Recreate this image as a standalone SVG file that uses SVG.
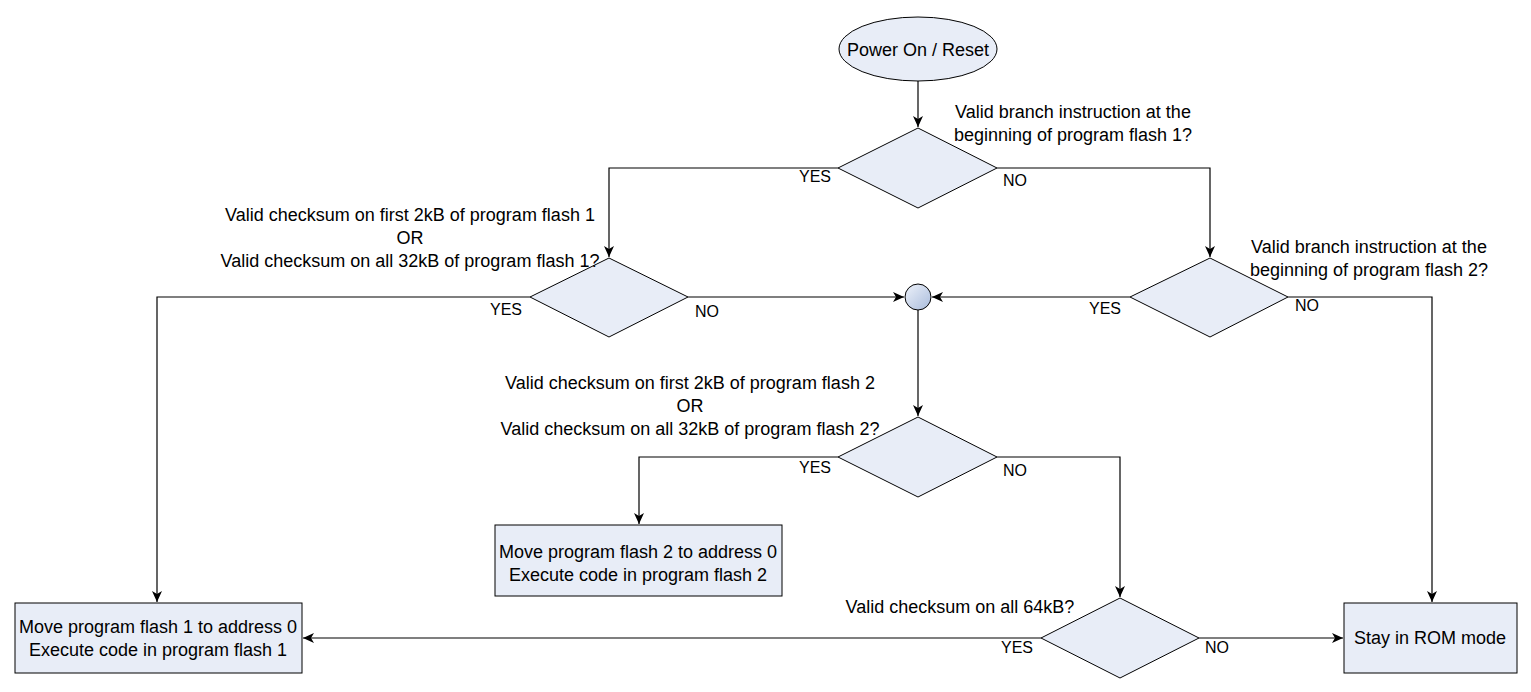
<svg xmlns="http://www.w3.org/2000/svg" width="1531" height="692" viewBox="0 0 1531 692">
<defs>
<marker id="arr" markerWidth="12" markerHeight="10" refX="11" refY="5" orient="auto" markerUnits="userSpaceOnUse">
<path d="M0,0 L11,5 L0,10 L3,5 Z" fill="#000"/>
</marker>
<linearGradient id="cg" x1="0" y1="0" x2="1" y2="1">
<stop offset="0" stop-color="#eef2fa"/>
<stop offset="1" stop-color="#a9bcdc"/>
</linearGradient>
</defs>
<style>
.s{fill:#e8edf7;stroke:#000;stroke-width:1}
.t{font-family:"Liberation Sans",Arial,sans-serif;font-size:18px;fill:#000}
.l{font-family:"Liberation Sans",Arial,sans-serif;font-size:16px;fill:#000}
.c{fill:none;stroke:#000;stroke-width:1.2}
</style>
<rect width="1531" height="692" fill="#fff"/>
<g id="connectors">
<path class="c" d="M918,81 V127" marker-end="url(#arr)"/>
<path class="c" d="M838,168 H609 V257" marker-end="url(#arr)"/>
<path class="c" d="M997,168 H1210 V257" marker-end="url(#arr)"/>
<path class="c" d="M530,297 H157 V602" marker-end="url(#arr)"/>
<path class="c" d="M688,297 H904" marker-end="url(#arr)"/>
<path class="c" d="M1130,297 H932" marker-end="url(#arr)"/>
<path class="c" d="M1288,297 H1432 V602" marker-end="url(#arr)"/>
<path class="c" d="M918,310 V416" marker-end="url(#arr)"/>
<path class="c" d="M838,457 H639 V524" marker-end="url(#arr)"/>
<path class="c" d="M997,457 H1120 V597" marker-end="url(#arr)"/>
<path class="c" d="M1041,638 H303" marker-end="url(#arr)"/>
<path class="c" d="M1199,638 H1343" marker-end="url(#arr)"/>
<text class="l" x="799" y="182">YES</text>
<text class="l" x="1003" y="186">NO</text>
<text class="l" x="490" y="315">YES</text>
<text class="l" x="695" y="317">NO</text>
<text class="l" x="1089" y="314">YES</text>
<text class="l" x="1295" y="311">NO</text>
<text class="l" x="799" y="473">YES</text>
<text class="l" x="1003" y="476">NO</text>
<text class="l" x="1001" y="653">YES</text>
<text class="l" x="1205" y="653">NO</text>
</g>
<g id="start">
<ellipse class="s" cx="918" cy="49" rx="79" ry="32"/>
<text class="t" x="918" y="56" text-anchor="middle">Power On / Reset</text>
</g>
<g id="d1">
<polygon class="s" points="918,128 997,168 918,208 838,168"/>
<text class="t" text-anchor="middle"><tspan x="1073" y="118">Valid branch instruction at the</tspan><tspan x="1073" y="141">beginning of program flash 1?</tspan></text>
</g>
<g id="d2">
<polygon class="s" points="609,258 688,297 609,337 530,297"/>
<text class="t" text-anchor="middle"><tspan x="410" y="221">Valid checksum on first 2kB of program flash 1</tspan><tspan x="410" y="244">OR</tspan><tspan x="410" y="267">Valid checksum on all 32kB of program flash 1?</tspan></text>
</g>
<g id="d3">
<polygon class="s" points="1210,258 1288,297 1210,337 1130,297"/>
<text class="t" text-anchor="middle"><tspan x="1369" y="253">Valid branch instruction at the</tspan><tspan x="1369" y="276">beginning of program flash 2?</tspan></text>
</g>
<g id="junction">
<circle cx="918" cy="297" r="13" fill="url(#cg)" stroke="#000" stroke-width="1"/>
</g>
<g id="d4">
<polygon class="s" points="918,417 997,457 918,497 838,457"/>
<text class="t" text-anchor="middle"><tspan x="690" y="389">Valid checksum on first 2kB of program flash 2</tspan><tspan x="690" y="412">OR</tspan><tspan x="690" y="435">Valid checksum on all 32kB of program flash 2?</tspan></text>
</g>
<g id="box2">
<rect class="s" x="495" y="525" width="287" height="71"/>
<text class="t" text-anchor="middle"><tspan x="638" y="558">Move program flash 2 to address 0</tspan><tspan x="638" y="581">Execute code in program flash 2</tspan></text>
</g>
<g id="d5">
<polygon class="s" points="1120,598 1199,638 1120,678 1041,638"/>
<text class="t" x="960" y="613" text-anchor="middle">Valid checksum on all 64kB?</text>
</g>
<g id="box1">
<rect class="s" x="15" y="603" width="287" height="70"/>
<text class="t" text-anchor="middle"><tspan x="158" y="633">Move program flash 1 to address 0</tspan><tspan x="158" y="656">Execute code in program flash 1</tspan></text>
</g>
<g id="box3">
<rect class="s" x="1344" y="603" width="173" height="70"/>
<text class="t" x="1430" y="644" text-anchor="middle">Stay in ROM mode</text>
</g>
</svg>
